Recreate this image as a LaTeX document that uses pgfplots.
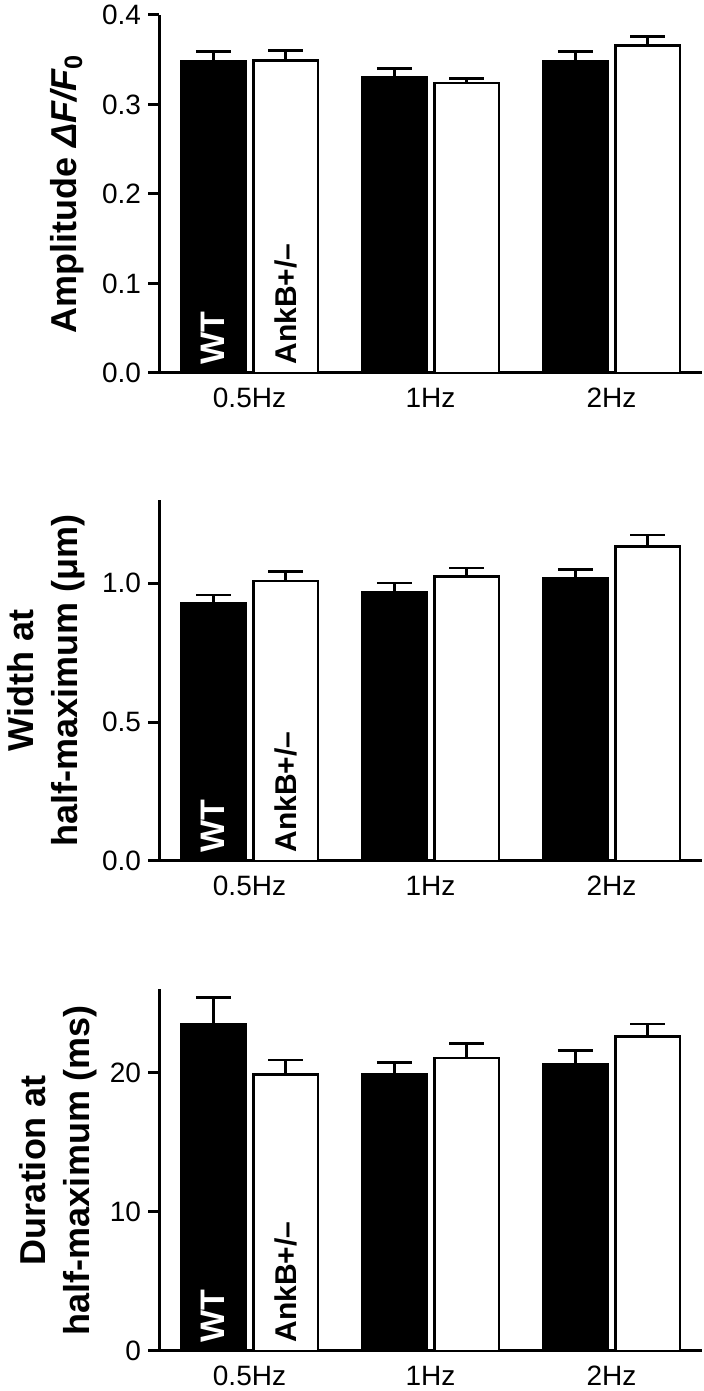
\documentclass[border=0pt]{standalone}
\usepackage{pgfplots}
\pgfplotsset{compat=1.18}
\usepackage{fontspec}
\setmainfont{Liberation Sans}

\pgfplotsset{
  panel/.style={
    scale only axis, width=271.5pt, anchor=south west,
    xmin=-0.5, xmax=2.5, ymin=0,
    axis x line*=bottom, axis y line*=left,
    axis line style={-, line width=1.5pt},
    every outer x axis line/.append style={-},
    every outer y axis line/.append style={-},
    xtick={0,1,2}, xticklabels={0.5Hz,1Hz,2Hz},
    x tick style={draw=none},
    xticklabel style={yshift=1.5pt},
    y tick style={line width=1.5pt, black},
    tick align=outside, major tick length=5.5pt,
    ticklabel style={font=\fontsize{14}{16}\selectfont},
    /pgf/number format/assume math mode=true,
    y label style={font=\bfseries\fontsize{18}{22}\selectfont, align=center, anchor=center},
    clip=false,
  },
  % bars are placed at x-0.2 (WT) and x+0.2 (AnkB+/-) so that the error bars line up
  bars/.style={ybar, bar width=0.355, bar shift=0, line width=1.3pt, draw=black,
    error bars/y dir=plus, error bars/y explicit,
    error bars/error bar style={line width=1.3pt, black},
    error bars/error mark options={rotate=90, mark size=8.75pt, line width=1.3pt, black}},
  wt/.style={bars, fill=black},
  ank/.style={bars, fill=white},
}
\tikzset{
  wtlab/.style={rotate=90, anchor=west, inner sep=0pt, text=white, font=\bfseries\fontsize{17}{19}\selectfont},
  anklab/.style={rotate=90, anchor=west, inner sep=0pt, font=\bfseries\fontsize{15}{17}\selectfont},
}

\begin{document}
\begin{tikzpicture}
\useasboundingbox (0,0) rectangle (352pt,695.5pt);

% amplitude
\begin{axis}[panel, at={(79.5pt,509pt)}, height=179pt, ymax=0.4,
  ytick={0,0.1,0.2,0.3,0.4},
  yticklabel style={/pgf/number format/.cd, fixed, fixed zerofill, precision=1},
  ylabel={Amplitude {\itshape ΔF/F}\textsubscript{0}},
  y label style={at={(axis description cs:-0.169,0.5)}}]
\addplot[wt] coordinates {(-0.2,0.348) +- (0,0.011) (0.8,0.330) +- (0,0.010) (1.8,0.348) +- (0,0.011)};
\addplot[ank] coordinates {(0.2,0.349) +- (0,0.011) (1.2,0.324) +- (0,0.005) (2.2,0.366) +- (0,0.010)};
\node[wtlab] at ([yshift=4pt]axis cs:-0.2,0) {WT};
\node[anklab] at ([yshift=4pt]axis cs:0.2,0) {AnkB+/–};
\end{axis}

% width
\begin{axis}[panel, at={(79.5pt,265pt)}, height=180.5pt, ymax=1.3,
  ytick={0,0.5,1.0},
  yticklabel style={/pgf/number format/.cd, fixed, fixed zerofill, precision=1},
  ylabel={Width at\\half-maximum (μm)},
  y label style={at={(axis description cs:-0.208,0.5)}}]
\addplot[wt] coordinates {(-0.2,0.927) +- (0,0.031) (0.8,0.968) +- (0,0.033) (1.8,1.019) +- (0,0.031)};
\addplot[ank] coordinates {(0.2,1.008) +- (0,0.034) (1.2,1.024) +- (0,0.031) (2.2,1.132) +- (0,0.042)};
\node[wtlab] at ([yshift=4pt]axis cs:-0.2,0) {WT};
\node[anklab] at ([yshift=4pt]axis cs:0.2,0) {AnkB+/–};
\end{axis}

% duration
\begin{axis}[panel, at={(79.5pt,20pt)}, height=181pt, ymax=26,
  ytick={0,10,20},
  ylabel={Duration at\\half-maximum (ms)},
  y label style={at={(axis description cs:-0.185,0.5)}}]
\addplot[wt] coordinates {(-0.2,23.5) +- (0,1.9) (0.8,19.9) +- (0,0.84) (1.8,20.6) +- (0,0.98)};
\addplot[ank] coordinates {(0.2,19.86) +- (0,1.05) (1.2,21.05) +- (0,1.03) (2.2,22.6) +- (0,0.9)};
\node[wtlab] at ([yshift=4pt]axis cs:-0.2,0) {WT};
\node[anklab] at ([yshift=4pt]axis cs:0.2,0) {AnkB+/–};
\end{axis}
\end{tikzpicture}
\end{document}
